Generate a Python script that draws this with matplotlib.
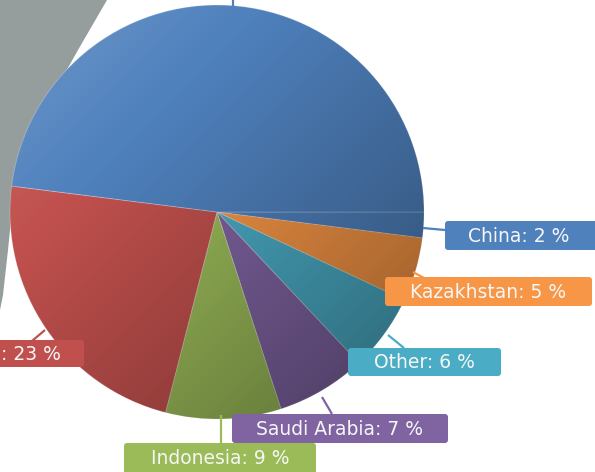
import numpy as np
import matplotlib
matplotlib.use("Agg")
import matplotlib.pyplot as plt
from matplotlib.patches import Circle, FancyBboxPatch, Polygon

# slice values, clockwise from 3 o'clock
countries = ["China", "Kazakhstan", "Other", "Saudi Arabia", "Indonesia", "", "Main"]
shares = [2, 5, 6, 7, 9, 23, 48]
colors = ["#4F81BD", "#F79646", "#4BACC6", "#8064A2", "#9BBB59", "#C0504D", "#4F81BD"]

W, H = 595, 472
cx, cy, r = 217, 212, 207   # pie centre / radius in pixels (y from top)


def Y(y):
    return H - y


fig = plt.figure(figsize=(W / 100, H / 100), dpi=100)
ax = fig.add_axes([0, 0, 1, 1])

# grey shape peeking in on the left
gray_edge = [(0, 0), (107, 0), (78, 50), (50, 100), (27, 150), (13, 200),
             (8, 250), (3, 295), (0, 310)]
ax.add_patch(Polygon([(x, Y(y)) for x, y in gray_edge], closed=True,
                     facecolor="#959d9d", edgecolor="none", zorder=1))

wedges, _ = ax.pie(shares, colors=colors, startangle=0, counterclock=False,
                   center=(cx, Y(cy)), radius=r, frame=True,
                   wedgeprops=dict(edgecolor=(1, 1, 1, 0.25), linewidth=0.7))
for w in wedges:
    w.set_zorder(2)

# diagonal shading over the pie
n = 300
gx, gy = np.meshgrid(np.linspace(-1, 1, n), np.linspace(-1, 1, n))
t = (gx + gy) / 2
s = 0.12 + 0.30 * t
shade = np.zeros((n, n, 4))
shade[..., :3] = np.where(s[..., None] < 0, 1.0, 0.0)
shade[..., 3] = np.clip(np.abs(s), 0, 1)
clip = Circle((cx, Y(cy)), r, transform=ax.transData)
im = ax.imshow(shade, extent=[cx - r, cx + r, Y(cy) - r, Y(cy) + r],
               origin="upper", zorder=3, interpolation="bilinear")
im.set_clip_path(clip)
ax.set_xlim(0, W)
ax.set_ylim(0, H)
ax.set_aspect("auto")
ax.axis("off")

# leader lines (pixel coords)
leaders = [
    ([233, 233], [0, 8], "#4F81BD"),
    ([423, 445], [228, 230], "#4F81BD"),
    ([413, 424], [272, 278], "#F79646"),
    ([388, 404], [335, 348], "#4BACC6"),
    ([322, 332], [397, 414], "#8064A2"),
    ([221, 221], [415, 443], "#9BBB59"),
    ([32, 45], [341, 330], "#C0504D"),
]
for xs, ys, c in leaders:
    ax.plot(xs, [Y(v) for v in ys], color=c, lw=1.6, zorder=4, solid_capstyle="butt")

# label boxes: x0, x1, y0, y1 (pixels)
boxes = [
    (445, 598, 221, 250, "#4F81BD", 0),
    (385, 592, 277, 306, "#F79646", 1),
    (348, 501, 348, 376, "#4BACC6", 2),
    (232, 448, 414, 443, "#8064A2", 3),
    (124, 316, 443, 476, "#9BBB59", 4),
    (-80, 84, 340, 367, "#C0504D", 5),
]
for x0, x1, y0, y1, c, i in boxes:
    ax.add_patch(FancyBboxPatch((x0, Y(y1)), x1 - x0, y1 - y0,
                                boxstyle="round,pad=0,rounding_size=3",
                                facecolor=c, edgecolor="none", zorder=5))
    label = f"{countries[i]}: {shares[i]} %"
    if i == 5:
        ax.text(x1 - 23, Y((y0 + y1) / 2 + 1), label, ha="right", va="center",
                color="#f6f6f6", fontsize=13.5, zorder=6)
    elif i == 0:
        ax.text(468, Y((y0 + y1) / 2 + 1), label, ha="left", va="center",
                color="#f6f6f6", fontsize=13.5, zorder=6)
    else:
        yy = (y0 + y1) / 2 + 1 if i != 4 else 459
        ax.text((x0 + x1) / 2, Y(yy), label, ha="center", va="center",
                color="#f6f6f6", fontsize=13.5, zorder=6)

fig.savefig("out.png", dpi=100)
